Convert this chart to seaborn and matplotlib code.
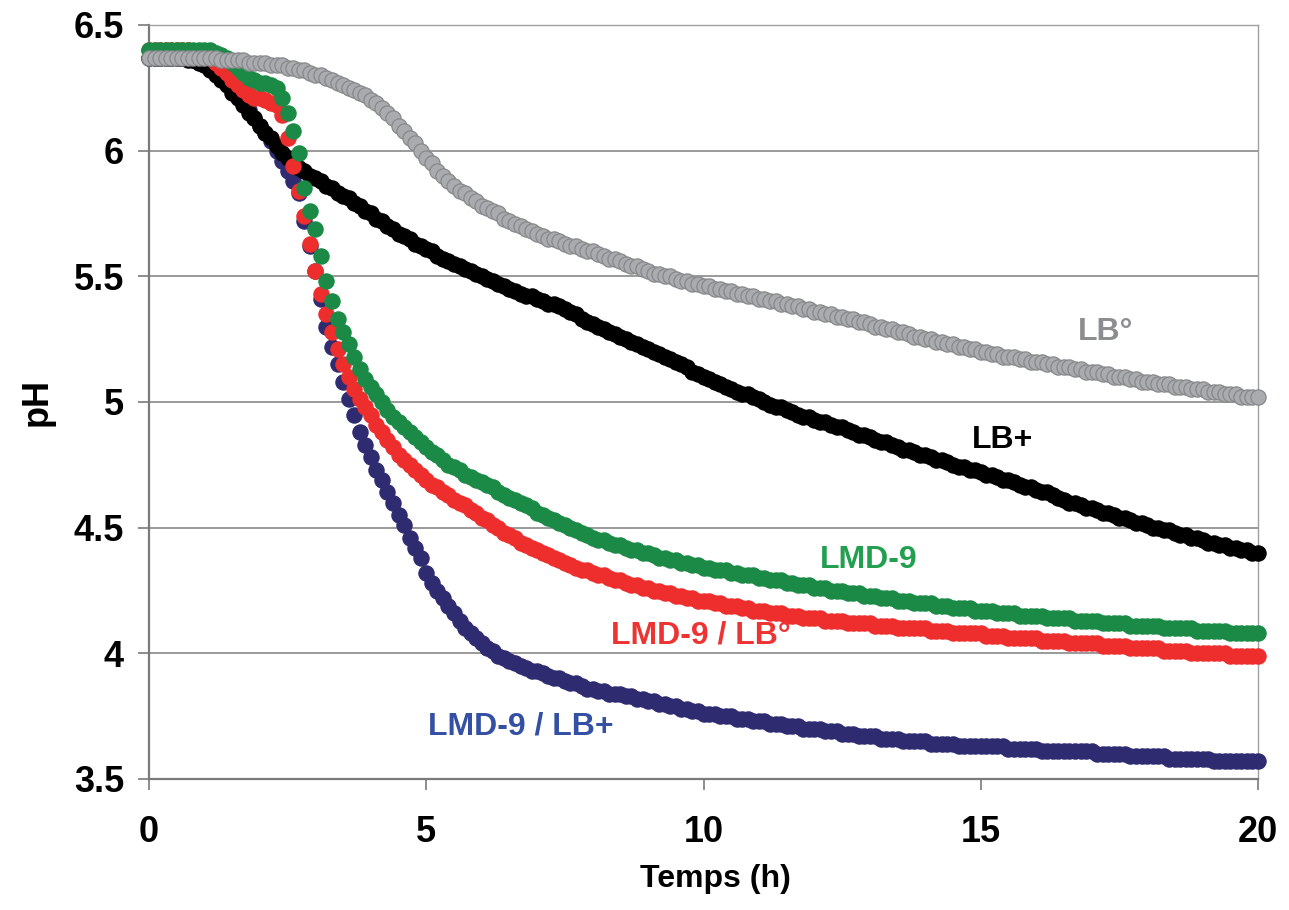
import numpy as np
import pandas as pd
import matplotlib
matplotlib.use("Agg")
import matplotlib.pyplot as plt
import seaborn as sns

sns.set_theme(style="white")
plt.rcParams["font.family"] = ["Liberation Sans", "DejaVu Sans"]
plt.rcParams["font.weight"] = "bold"
plt.rcParams["text.color"] = "black"
plt.rcParams["axes.labelcolor"] = "black"
plt.rcParams["xtick.labelcolor"] = "black"
plt.rcParams["ytick.labelcolor"] = "black"

# pH relevé toutes les 0,1 h de 0 à 20 h (201 points par culture)
pas_h = 0.1

ph_lb_deg = [
    6.37, 6.37, 6.37, 6.37, 6.37, 6.37, 6.37, 6.37, 6.37, 6.37,
    6.37, 6.37, 6.37, 6.36, 6.36, 6.36, 6.36, 6.36, 6.35, 6.35,
    6.35, 6.35, 6.34, 6.34, 6.34, 6.33, 6.33, 6.32, 6.32, 6.31,
    6.30, 6.30, 6.29, 6.28, 6.27, 6.26, 6.25, 6.24, 6.23, 6.22,
    6.20, 6.19, 6.17, 6.15, 6.13, 6.10, 6.08, 6.05, 6.03, 6.00,
    5.97, 5.95, 5.92, 5.90, 5.88, 5.86, 5.84, 5.83, 5.81, 5.80,
    5.78, 5.77, 5.76, 5.75, 5.73, 5.72, 5.71, 5.70, 5.69, 5.68,
    5.67, 5.66, 5.65, 5.65, 5.64, 5.63, 5.62, 5.62, 5.61, 5.60,
    5.60, 5.59, 5.58, 5.57, 5.57, 5.56, 5.55, 5.54, 5.54, 5.53,
    5.52, 5.51, 5.51, 5.50, 5.50, 5.49, 5.48, 5.48, 5.47, 5.47,
    5.46, 5.46, 5.45, 5.45, 5.44, 5.44, 5.43, 5.43, 5.42, 5.42,
    5.41, 5.41, 5.40, 5.40, 5.39, 5.39, 5.38, 5.38, 5.37, 5.37,
    5.36, 5.36, 5.35, 5.35, 5.34, 5.34, 5.33, 5.33, 5.32, 5.32,
    5.31, 5.30, 5.30, 5.29, 5.29, 5.28, 5.28, 5.27, 5.26, 5.26,
    5.25, 5.25, 5.24, 5.24, 5.23, 5.23, 5.22, 5.22, 5.21, 5.21,
    5.20, 5.20, 5.19, 5.19, 5.18, 5.18, 5.18, 5.17, 5.17, 5.16,
    5.16, 5.16, 5.15, 5.15, 5.14, 5.14, 5.14, 5.13, 5.13, 5.12,
    5.12, 5.12, 5.11, 5.11, 5.10, 5.10, 5.10, 5.09, 5.09, 5.08,
    5.08, 5.08, 5.07, 5.07, 5.07, 5.06, 5.06, 5.06, 5.05, 5.05,
    5.05, 5.04, 5.04, 5.04, 5.03, 5.03, 5.03, 5.02, 5.02, 5.02,
    5.02,
]

ph_lb_plus = [
    6.37, 6.37, 6.37, 6.37, 6.37, 6.37, 6.37, 6.36, 6.36, 6.35,
    6.34, 6.32, 6.30, 6.28, 6.26, 6.23, 6.21, 6.18, 6.15, 6.13,
    6.10, 6.07, 6.05, 6.02, 5.99, 5.97, 5.95, 5.93, 5.92, 5.90,
    5.89, 5.88, 5.86, 5.85, 5.83, 5.82, 5.81, 5.79, 5.78, 5.76,
    5.75, 5.73, 5.72, 5.70, 5.69, 5.67, 5.66, 5.65, 5.63, 5.62,
    5.61, 5.60, 5.58, 5.57, 5.56, 5.55, 5.54, 5.53, 5.52, 5.51,
    5.50, 5.49, 5.48, 5.47, 5.46, 5.45, 5.44, 5.43, 5.42, 5.42,
    5.41, 5.40, 5.39, 5.39, 5.38, 5.37, 5.36, 5.35, 5.33, 5.32,
    5.31, 5.30, 5.29, 5.28, 5.27, 5.26, 5.25, 5.24, 5.23, 5.22,
    5.21, 5.20, 5.19, 5.18, 5.17, 5.16, 5.15, 5.14, 5.12, 5.11,
    5.10, 5.09, 5.08, 5.07, 5.06, 5.05, 5.04, 5.03, 5.03, 5.02,
    5.01, 5.00, 4.99, 4.98, 4.98, 4.97, 4.96, 4.95, 4.94, 4.94,
    4.93, 4.92, 4.92, 4.91, 4.90, 4.90, 4.89, 4.88, 4.87, 4.87,
    4.86, 4.85, 4.84, 4.84, 4.83, 4.82, 4.81, 4.81, 4.80, 4.79,
    4.79, 4.78, 4.77, 4.77, 4.76, 4.75, 4.74, 4.74, 4.73, 4.73,
    4.72, 4.71, 4.71, 4.70, 4.69, 4.69, 4.68, 4.67, 4.66, 4.66,
    4.65, 4.64, 4.64, 4.63, 4.62, 4.61, 4.60, 4.60, 4.59, 4.58,
    4.58, 4.57, 4.56, 4.56, 4.55, 4.54, 4.54, 4.53, 4.52, 4.52,
    4.51, 4.50, 4.50, 4.49, 4.49, 4.48, 4.47, 4.47, 4.46, 4.46,
    4.45, 4.44, 4.44, 4.43, 4.43, 4.42, 4.42, 4.41, 4.41, 4.40,
    4.40,
]

ph_lmd9 = [
    6.40, 6.40, 6.40, 6.40, 6.40, 6.40, 6.40, 6.40, 6.40, 6.40,
    6.40, 6.40, 6.39, 6.38, 6.37, 6.35, 6.33, 6.31, 6.29, 6.28,
    6.27, 6.27, 6.26, 6.25, 6.21, 6.15, 6.08, 5.99, 5.85, 5.76,
    5.69, 5.58, 5.48, 5.40, 5.33, 5.28, 5.23, 5.18, 5.13, 5.09,
    5.06, 5.03, 5.00, 4.97, 4.94, 4.92, 4.90, 4.88, 4.86, 4.84,
    4.82, 4.80, 4.79, 4.77, 4.75, 4.74, 4.73, 4.71, 4.70, 4.69,
    4.68, 4.67, 4.66, 4.64, 4.63, 4.62, 4.61, 4.60, 4.59, 4.58,
    4.56, 4.55, 4.54, 4.53, 4.52, 4.51, 4.50, 4.49, 4.48, 4.47,
    4.46, 4.45, 4.45, 4.44, 4.43, 4.43, 4.42, 4.41, 4.41, 4.40,
    4.40, 4.39, 4.38, 4.38, 4.37, 4.37, 4.36, 4.36, 4.35, 4.35,
    4.34, 4.34, 4.33, 4.33, 4.33, 4.32, 4.32, 4.31, 4.31, 4.31,
    4.30, 4.30, 4.29, 4.29, 4.29, 4.28, 4.28, 4.27, 4.27, 4.27,
    4.26, 4.26, 4.26, 4.25, 4.25, 4.25, 4.24, 4.24, 4.24, 4.23,
    4.23, 4.23, 4.22, 4.22, 4.22, 4.21, 4.21, 4.21, 4.20, 4.20,
    4.20, 4.20, 4.19, 4.19, 4.19, 4.18, 4.18, 4.18, 4.18, 4.17,
    4.17, 4.17, 4.17, 4.16, 4.16, 4.16, 4.16, 4.15, 4.15, 4.15,
    4.15, 4.15, 4.14, 4.14, 4.14, 4.14, 4.14, 4.13, 4.13, 4.13,
    4.13, 4.13, 4.12, 4.12, 4.12, 4.12, 4.12, 4.11, 4.11, 4.11,
    4.11, 4.11, 4.11, 4.10, 4.10, 4.10, 4.10, 4.10, 4.10, 4.09,
    4.09, 4.09, 4.09, 4.09, 4.09, 4.08, 4.08, 4.08, 4.08, 4.08,
    4.08,
]

ph_lmd9_lb_deg = [
    6.40, 6.40, 6.40, 6.40, 6.40, 6.40, 6.40, 6.40, 6.39, 6.39,
    6.38, 6.37, 6.35, 6.33, 6.31, 6.28, 6.26, 6.24, 6.22, 6.21,
    6.21, 6.20, 6.19, 6.18, 6.14, 6.05, 5.94, 5.84, 5.74, 5.63,
    5.52, 5.43, 5.35, 5.28, 5.21, 5.15, 5.10, 5.05, 5.01, 4.98,
    4.95, 4.91, 4.88, 4.85, 4.82, 4.79, 4.77, 4.75, 4.73, 4.71,
    4.69, 4.67, 4.66, 4.64, 4.63, 4.61, 4.60, 4.59, 4.57, 4.56,
    4.54, 4.53, 4.51, 4.50, 4.48, 4.47, 4.46, 4.44, 4.43, 4.42,
    4.41, 4.40, 4.39, 4.38, 4.37, 4.36, 4.35, 4.34, 4.33, 4.33,
    4.32, 4.31, 4.31, 4.30, 4.29, 4.29, 4.28, 4.27, 4.27, 4.26,
    4.26, 4.25, 4.25, 4.24, 4.24, 4.23, 4.23, 4.22, 4.22, 4.21,
    4.21, 4.21, 4.20, 4.20, 4.19, 4.19, 4.19, 4.18, 4.18, 4.17,
    4.17, 4.17, 4.16, 4.16, 4.16, 4.15, 4.15, 4.15, 4.14, 4.14,
    4.14, 4.14, 4.13, 4.13, 4.13, 4.13, 4.12, 4.12, 4.12, 4.12,
    4.12, 4.11, 4.11, 4.11, 4.11, 4.10, 4.10, 4.10, 4.10, 4.10,
    4.10, 4.09, 4.09, 4.09, 4.09, 4.08, 4.08, 4.08, 4.08, 4.08,
    4.08, 4.07, 4.07, 4.07, 4.07, 4.06, 4.06, 4.06, 4.06, 4.06,
    4.06, 4.05, 4.05, 4.05, 4.05, 4.05, 4.04, 4.04, 4.04, 4.04,
    4.04, 4.04, 4.03, 4.03, 4.03, 4.03, 4.03, 4.02, 4.02, 4.02,
    4.02, 4.02, 4.02, 4.01, 4.01, 4.01, 4.01, 4.01, 4.00, 4.00,
    4.00, 4.00, 4.00, 4.00, 4.00, 3.99, 3.99, 3.99, 3.99, 3.99,
    3.99,
]

ph_lmd9_lb_plus = [
    6.37, 6.37, 6.37, 6.37, 6.37, 6.37, 6.37, 6.37, 6.36, 6.36,
    6.35, 6.33, 6.31, 6.29, 6.27, 6.24, 6.22, 6.19, 6.16, 6.13,
    6.10, 6.07, 6.04, 6.00, 5.96, 5.92, 5.88, 5.83, 5.72, 5.62,
    5.52, 5.41, 5.30, 5.22, 5.15, 5.08, 5.01, 4.95, 4.88, 4.83,
    4.78, 4.73, 4.69, 4.64, 4.60, 4.55, 4.51, 4.46, 4.42, 4.38,
    4.32, 4.28, 4.25, 4.22, 4.19, 4.16, 4.13, 4.10, 4.08, 4.06,
    4.04, 4.02, 4.01, 3.99, 3.98, 3.97, 3.96, 3.95, 3.94, 3.93,
    3.93, 3.92, 3.91, 3.90, 3.90, 3.89, 3.88, 3.88, 3.87, 3.86,
    3.86, 3.85, 3.85, 3.84, 3.84, 3.84, 3.83, 3.83, 3.82, 3.82,
    3.81, 3.81, 3.80, 3.80, 3.79, 3.79, 3.78, 3.78, 3.77, 3.77,
    3.76, 3.76, 3.76, 3.75, 3.75, 3.75, 3.74, 3.74, 3.74, 3.73,
    3.73, 3.73, 3.72, 3.72, 3.72, 3.71, 3.71, 3.71, 3.70, 3.70,
    3.70, 3.70, 3.69, 3.69, 3.69, 3.68, 3.68, 3.68, 3.67, 3.67,
    3.67, 3.67, 3.66, 3.66, 3.66, 3.66, 3.65, 3.65, 3.65, 3.65,
    3.65, 3.64, 3.64, 3.64, 3.64, 3.64, 3.63, 3.63, 3.63, 3.63,
    3.63, 3.63, 3.63, 3.63, 3.63, 3.62, 3.62, 3.62, 3.62, 3.62,
    3.62, 3.61, 3.61, 3.61, 3.61, 3.61, 3.61, 3.61, 3.61, 3.61,
    3.61, 3.60, 3.60, 3.60, 3.60, 3.60, 3.60, 3.59, 3.59, 3.59,
    3.59, 3.59, 3.59, 3.59, 3.58, 3.58, 3.58, 3.58, 3.58, 3.58,
    3.58, 3.58, 3.57, 3.57, 3.57, 3.57, 3.57, 3.57, 3.57, 3.57,
    3.57,
]

# ordre de tracé (le dernier passe au-dessus)
cultures = ["LMD-9 / LB+", "LB+", "LMD-9 / LB°", "LMD-9", "LB°"]
valeurs = [ph_lmd9_lb_plus, ph_lb_plus, ph_lmd9_lb_deg, ph_lmd9, ph_lb_deg]

frames = []
for nom, ph in zip(cultures, valeurs):
    frames.append(pd.DataFrame({
        "temps": np.round(np.arange(len(ph)) * pas_h, 2),
        "pH": ph,
        "culture": nom,
    }))
df = pd.concat(frames, ignore_index=True)

couleur = {
    "LMD-9 / LB+": "#2e2b70",
    "LB+": "#000000",
    "LMD-9 / LB°": "#ee2d2d",
    "LMD-9": "#1b8a46",
    "LB°": "#a9abae",
}
bord = dict(couleur)
bord["LB°"] = "#86888b"

# étiquettes : (texte, couleur, x, y)
etiquettes = [
    ("LB°", "#8c8d90", 17.25, 5.28),
    ("LB+", "#000000", 15.4, 4.85),
    ("LMD-9", "#22a050", 12.98, 4.37),
    ("LMD-9 / LB°", "#ee3333", 9.95, 4.07),
    ("LMD-9 / LB+", "#3450a4", 6.7, 3.71),
]

fig = plt.figure(figsize=(12.89, 9.10), dpi=100)
ax = fig.add_axes([149 / 1289, 1 - 779 / 910, 1109 / 1289, 754 / 910])

for nom in cultures:
    sub = df[df["culture"] == nom]
    sns.scatterplot(data=sub, x="temps", y="pH", ax=ax, color=couleur[nom],
                    edgecolor=bord[nom], linewidth=0.9, s=120, legend=False,
                    clip_on=False, zorder=3)

for texte, c, x, y in etiquettes:
    ax.text(x, y, texte, color=c, fontsize=23, fontweight="bold",
            ha="center", va="center", zorder=4)

ax.set_xlim(0, 20)
ax.set_ylim(3.5, 6.5)
ax.set_xticks([0, 5, 10, 15, 20])
ax.set_yticks([3.5, 4, 4.5, 5, 5.5, 6, 6.5])
ax.set_yticklabels(["3.5", "4", "4.5", "5", "5.5", "6", "6.5"])

ax.yaxis.grid(True, color="#7f7f7f", linewidth=1.1, zorder=0)
ax.xaxis.grid(False)
ax.set_axisbelow(True)

for side in ["left", "bottom"]:
    ax.spines[side].set_color("#7a7a7a")
    ax.spines[side].set_linewidth(1.6)
for side in ["top", "right"]:
    ax.spines[side].set_color("#a0a0a0")
    ax.spines[side].set_linewidth(1.0)

ax.tick_params(axis="both", which="major", direction="out", length=8,
               width=1.2, color="#7a7a7a", labelcolor="black", labelsize=26,
               left=True, bottom=True)
ax.tick_params(axis="y", pad=10)
ax.tick_params(axis="x", pad=18)
for lab in ax.get_xticklabels() + ax.get_yticklabels():
    lab.set_fontweight("bold")

ax.set_xlabel("Temps (h)", fontsize=23, fontweight="bold", color="black")
ax.set_ylabel("pH", fontsize=26, fontweight="bold", color="black")
ax.xaxis.set_label_coords(0.511, -0.113)
ax.yaxis.set_label_coords(-0.085, 0.5)

fig.savefig("out.png", dpi=100)
plt.close(fig)
